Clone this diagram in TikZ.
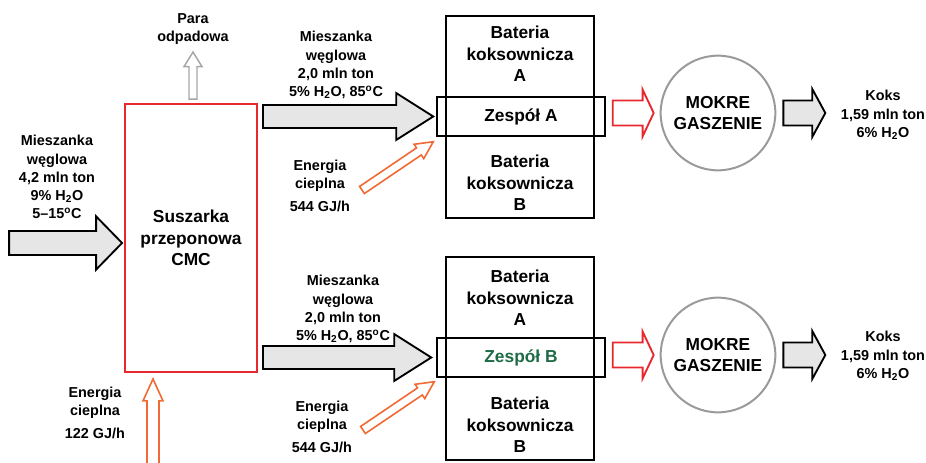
\documentclass[tikz,border=0pt]{standalone}
\usepackage{fontspec}
\setmainfont{Liberation Sans}
\usetikzlibrary{calc}
\definecolor{cmcred}{HTML}{E8282E}
\definecolor{heatorange}{HTML}{F26A33}
\definecolor{zespgreen}{HTML}{1E6B45}
\definecolor{flowgray}{HTML}{E6E6E6}
\definecolor{quenchgray}{HTML}{9A9A9A}
\definecolor{steamgray}{HTML}{A6A6A6}

\newcommand{\blockarrow}[6][]{%
  \coordinate (hb) at ($(#3)!#6!(#2)$);
  \draw[#1] ($(#2)!#4!90:(#3)$) -- ($(hb)!#4!90:(#3)$) -- ($(hb)!#5!90:(#3)$) -- (#3)
    -- ($(hb)!#5!-90:(#3)$) -- ($(hb)!#4!-90:(#3)$) -- ($(#2)!#4!-90:(#3)$) -- cycle;
}

\tikzset{
  lbl/.style={align=center, inner sep=0pt, font=\fontsize{10.8}{13.6}\selectfont\bfseries},
  biglbl/.style={align=center, inner sep=0pt, font=\fontsize{13}{16}\selectfont\bfseries},
  unitbox/.style={draw, line width=1.1pt, inner sep=0pt},
  quench/.style={circle, draw=quenchgray, line width=1.5pt, minimum size=86pt, biglbl},
  grayflow/.style={draw=black, fill=flowgray, line width=1.4pt},
  redflow/.style={draw=cmcred, fill=white, line width=1.4pt},
  heatflow/.style={draw=heatorange, fill=white, line width=1.2pt},
  steamflow/.style={draw=steamgray, fill=white, line width=1.1pt},
}

\begin{document}
\begin{tikzpicture}[x=0.75pt, y=-0.75pt]
\useasboundingbox (0,0) rectangle (926,463);

\node[draw=cmcred, line width=1.4pt, minimum width=99pt, minimum height=201pt, biglbl] (dryer) at (191,238)
  {Suszarka\\przeponowa\\CMC};

\node[unitbox, minimum width=111pt, minimum height=151.5pt] (cokeA) at (520,117) {};
\node[unitbox, minimum width=126pt, minimum height=29.25pt, biglbl] (zespA) at (521,116.5) {Zespół A};
\node[biglbl] (cokeAa) at (520,54) {Bateria\\koksownicza\\A};
\node[biglbl] (cokeAb) at (520,183) {Bateria\\koksownicza\\B};

\node[unitbox, minimum width=111pt, minimum height=152.25pt] (cokeB) at (520,358.5) {};
\node[unitbox, minimum width=126pt, minimum height=29.25pt, biglbl, text=zespgreen] (zespB) at (521,357.5) {Zespół B};
\node[biglbl] (cokeBa) at (520,298) {Bateria\\koksownicza\\A};
\node[biglbl] (cokeBb) at (520,425) {Bateria\\koksownicza\\B};

\node[quench] (quenchA) at (718,113) {MOKRE\\GASZENIE};
\node[quench] (quenchB) at (718,355) {MOKRE\\GASZENIE};

\node[lbl] (steam) at (193,29) {Para\\odpadowa};
\node[lbl] (feed) at (57,177) {Mieszanka\\węglowa\\4,2 mln ton\\9\% H\textsubscript{2}O\\5--15\textsuperscript{o}C};
\node[lbl] (heat) at (95,413) {Energia\\cieplna\\[4pt]122 GJ/h};
\node[lbl] (mixA) at (336,65) {Mieszanka\\węglowa\\2,0 mln ton\\5\% H\textsubscript{2}O, 85\textsuperscript{o}C};
\node[lbl] (heatA) at (320,186) {Energia\\cieplna\\[4pt]544 GJ/h};
\node[lbl] (mixB) at (343,309) {Mieszanka\\węglowa\\2,0 mln ton\\5\% H\textsubscript{2}O, 85\textsuperscript{o}C};
\node[lbl] (heatB) at (322,427) {Energia\\cieplna\\[4pt]544 GJ/h};
\node[lbl] (koksA) at (883,115) {Koks\\1,59 mln ton\\6\% H\textsubscript{2}O};
\node[lbl] (koksB) at (883,356) {Koks\\1,59 mln ton\\6\% H\textsubscript{2}O};

\coordinate (feedS) at ($(dryer.west)+(-115,5)$);
\coordinate (feedE) at ($(dryer.west)+(-2,5)$);
\coordinate (steamS) at ($(dryer.north)+(2,-4)$);
\coordinate (steamE) at ($(dryer.north)+(2,-51)$);
\coordinate (heatS) at ($(dryer.south)+(-38,91)$);
\coordinate (heatE) at ($(dryer.south)+(-38,6)$);
\coordinate (mixAS) at ($(dryer.east |- zespA.west)+(5,0)$);
\coordinate (mixAE) at ($(zespA.west)+(-3,0)$);
\coordinate (mixBS) at ($(dryer.east |- zespB.west)+(5,0)$);
\coordinate (mixBE) at ($(zespB.west)+(-5,0)$);
\coordinate (heatAS) at (362,190);
\coordinate (heatAE) at ($(zespA.south west)+(-3,5)$);
\coordinate (heatBS) at (363,430);
\coordinate (heatBE) at ($(zespB.south west)+(-2,4)$);

\blockarrow[grayflow]{feedS}{feedE}{9pt}{20pt}{19.5pt}
\blockarrow[steamflow]{steamS}{steamE}{3pt}{6.8pt}{11pt}
\blockarrow[heatflow]{heatS}{heatE}{4.5pt}{7.5pt}{16.5pt}
\blockarrow[grayflow]{mixAS}{mixAE}{8.6pt}{17.6pt}{27.8pt}
\blockarrow[grayflow]{mixBS}{mixBE}{8.6pt}{17.6pt}{27.8pt}
\blockarrow[heatflow]{heatAS}{heatAE}{3.2pt}{6.5pt}{13pt}
\blockarrow[heatflow]{heatBS}{heatBE}{3.2pt}{6.5pt}{13pt}
\blockarrow[redflow]{$(zespA.east |- quenchA.west)+(7,0)$}{$(quenchA.west)+(-6,0)$}{9.4pt}{17.6pt}{8.3pt}
\blockarrow[redflow]{$(zespB.east |- quenchB.west)+(7,0)$}{$(quenchB.west)+(-6,0)$}{9.4pt}{17.6pt}{8.3pt}
\blockarrow[grayflow]{$(quenchA.east)+(7,0)$}{$(quenchA.east)+(49,0)$}{9.4pt}{18pt}{9.8pt}
\blockarrow[grayflow]{$(quenchB.east)+(7,0)$}{$(quenchB.east)+(49,0)$}{9.4pt}{18pt}{9.8pt}
\end{tikzpicture}
\end{document}
